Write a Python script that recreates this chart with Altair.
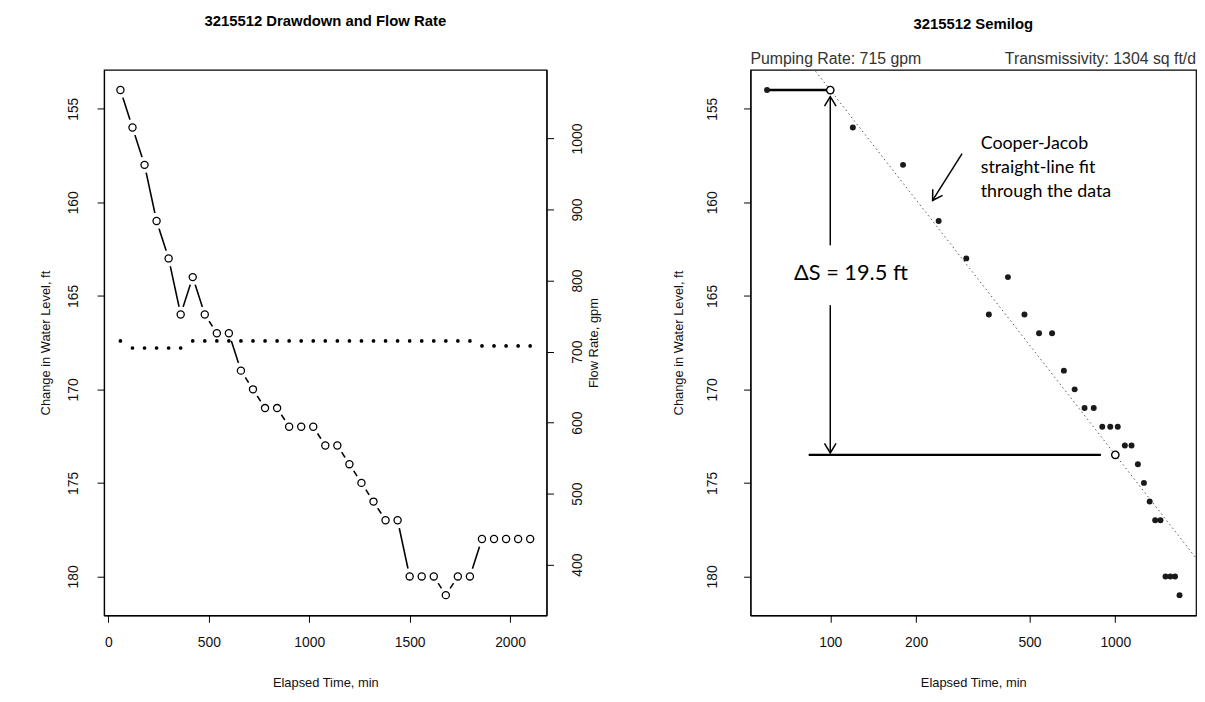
import math
import altair as alt
import pandas as pd

# ---------------- data ----------------
time_min = [60, 120, 180, 240, 300, 360, 420, 480, 540, 600, 660, 720, 780, 840,
            900, 960, 1020, 1080, 1140, 1200, 1260, 1320, 1380, 1440, 1500, 1560,
            1620, 1680, 1740, 1800, 1860, 1920, 1980, 2040, 2100]
drawdown_ft = [154, 156, 158, 161, 163, 166, 164, 166, 167, 167, 169, 170, 171, 171,
               172, 172, 172, 173, 173, 174, 175, 176, 177, 177, 180, 180,
               180, 181, 180, 180, 178, 178, 178, 178, 178]
flow_gpm = [715, 705, 705, 705, 705, 705, 715, 715, 715, 715, 715, 715, 715, 715,
            715, 715, 715, 715, 715, 715, 715, 715, 715, 715, 715, 715,
            715, 715, 715, 715, 708, 708, 708, 708, 708]
semilog_count = 28  # semilog panel uses the pumping period only (to 1680 min)

left_title = "3215512 Drawdown and Flow Rate"
right_title = "3215512 Semilog"
x_title = "Elapsed Time, min"
y_title = "Change in Water Level, ft"
flow_title = "Flow Rate, gpm"

x_ticks_linear = [0, 500, 1000, 1500, 2000]
x_ticks_log = [100, 200, 500, 1000]
y_ticks = [155, 160, 165, 170, 175, 180]
flow_ticks = [400, 500, 600, 700, 800, 900, 1000]

# Cooper-Jacob straight-line fit (two points)
fit_time = [100, 1000]
fit_drawdown = [154.0, 173.5]

# annotation segments (time, drawdown) start / end
seg_t1 = [60, 100, 100, 84, 290]
seg_s1 = [154.0, 154.35, 165.5, 173.5, 157.4]
seg_t2 = [100, 100, 100, 890, 228.5]
seg_s2 = [154.0, 162.3, 173.4, 173.5, 159.9]
seg_w = [2.5, 1.5, 1.5, 2.2, 1.5]

ann_circle_t = [100, 1000]
ann_circle_s = [154.0, 173.5]

arrow_t = [100, 100, 228.5]
arrow_s = [154.35, 173.4, 159.9]
arrow_angle = [180, 0, 32]

note_text = "Cooper-Jacob\nstraight-line fit\nthrough the data"
note_t, note_s = 337, 157.17
delta_text = "\u0394S = 19.5 ft"
delta_t, delta_s = 74.6, 163.8
pump_text = "Pumping Rate: 715 gpm"
trans_text = "Transmissivity: 1304 sq ft/d"

FONT = "Liberation Sans"

# ---------------- scales ----------------
dd_domain = [152.92, 182.08]
lin_domain = [-21.6, 2181.6]
log_domain = [52.5, 1919]
flow_domain = [328.6, 1096.7]

# ---------------- left panel ----------------
df_left = pd.DataFrame({"t": time_min, "s": drawdown_ft, "q": flow_gpm})

x_lin = alt.X("t:Q", scale=alt.Scale(domain=lin_domain, nice=False, zero=False),
              axis=alt.Axis(values=x_ticks_linear, title=x_title, format="d"))
y_left = alt.Y("s:Q", scale=alt.Scale(domain=dd_domain, reverse=True, nice=False, zero=False),
               axis=alt.Axis(values=y_ticks, title=y_title, labelAngle=270,
                             labelAlign="center", labelBaseline="bottom",
                             labelPadding=17, titlePadding=14))
y_flow = alt.Y("q:Q", scale=alt.Scale(domain=flow_domain, nice=False, zero=False),
               axis=alt.Axis(orient="right", values=flow_ticks, title=flow_title, format="d",
                             labelAngle=270, labelAlign="center", labelBaseline="top",
                             labelPadding=17, titleAngle=270, titlePadding=16))

base_left = alt.Chart(df_left)
dd_line = base_left.mark_line(color="black", strokeWidth=1.6).encode(x=x_lin, y=y_left)
dd_halo = base_left.mark_circle(color="white", size=270, opacity=1).encode(x=x_lin, y=y_left)
dd_pts = base_left.mark_point(shape="circle", filled=True, fill="white", stroke="black",
                              strokeWidth=1.3, size=52, opacity=1).encode(x=x_lin, y=y_left)
flow_pts = base_left.mark_circle(color="black", size=14, opacity=1).encode(x=x_lin, y=y_flow)

left = alt.layer(alt.layer(dd_line, dd_halo, dd_pts), flow_pts).resolve_scale(y="independent").properties(
    width=447, height=551,
    title=alt.TitleParams(left_title, fontSize=15, fontWeight="bold", font=FONT,
                          frame="group", anchor="middle", offset=41))

# ---------------- right panel ----------------
df_right = pd.DataFrame({"t": time_min[:semilog_count], "s": drawdown_ft[:semilog_count]})

slope = (fit_drawdown[1] - fit_drawdown[0]) / (math.log10(fit_time[1]) - math.log10(fit_time[0]))
ext_t = [40, 2500]
ext_s = [fit_drawdown[0] + slope * (math.log10(t) - math.log10(fit_time[0])) for t in ext_t]
df_fit = pd.DataFrame({"t": [ext_t[0]], "s": [ext_s[0]], "t2": [ext_t[1]], "s2": [ext_s[1]]})

df_seg = pd.DataFrame({"t": seg_t1, "s": seg_s1, "t2": seg_t2, "s2": seg_s2, "w": seg_w})
df_circ = pd.DataFrame({"t": ann_circle_t, "s": ann_circle_s})
df_arrow = pd.DataFrame({"t": arrow_t, "s": arrow_s, "a": arrow_angle})
df_note = pd.DataFrame({"t": [note_t], "s": [note_s], "label": [note_text]})
df_delta = pd.DataFrame({"t": [delta_t], "s": [delta_s], "label": [delta_text]})
df_top_l = pd.DataFrame({"t": [log_domain[0]], "s": [152.76], "label": [pump_text]})
df_top_r = pd.DataFrame({"t": [log_domain[1]], "s": [152.76], "label": [trans_text]})

x_log = alt.X("t:Q", scale=alt.Scale(type="log", domain=log_domain, nice=False),
              axis=alt.Axis(values=x_ticks_log, title=x_title, format="d"))
y_right = alt.Y("s:Q", scale=alt.Scale(domain=dd_domain, reverse=True, nice=False, zero=False),
                axis=alt.Axis(values=y_ticks, title=y_title, labelAngle=270,
                              labelAlign="center", labelBaseline="bottom",
                              labelPadding=24, titlePadding=21))

fit_rule = alt.Chart(df_fit).mark_rule(color="#555555", strokeWidth=1, strokeDash=[1.5, 3],
                                       clip=True).encode(x=x_log, y=y_right, x2="t2:Q", y2="s2:Q")
seg_rules = alt.Chart(df_seg).mark_rule(color="black").encode(
    x=x_log, y=y_right, x2="t2:Q", y2="s2:Q", strokeWidth=alt.StrokeWidth("w:Q", scale=None))
data_pts = alt.Chart(df_right).mark_circle(color="#1a1a1a", size=36, opacity=1).encode(x=x_log, y=y_right)
circ_pts = alt.Chart(df_circ).mark_point(shape="circle", filled=True, fill="white", stroke="black",
                                         strokeWidth=1.4, size=55, opacity=1).encode(x=x_log, y=y_right)
arrow_pts = alt.Chart(df_arrow).mark_point(shape="M-0.6,-1L0,0L0.6,-1", filled=False, stroke="black",
                                           strokeWidth=1.5, size=380, opacity=1).encode(
    x=x_log, y=y_right, angle=alt.Angle("a:Q", scale=None))
note = alt.Chart(df_note).mark_text(align="left", baseline="alphabetic", lineBreak="\n", lineHeight=24,
                                    font="Lato", fontSize=18, color="black").encode(
    x=x_log, y=y_right, text="label:N")
delta = alt.Chart(df_delta).mark_text(align="left", baseline="middle", font="Lato", fontSize=22,
                                      color="black").encode(x=x_log, y=y_right, text="label:N")
top_left = alt.Chart(df_top_l).mark_text(align="left", baseline="bottom", font=FONT,
                                         fontSize=16, color="#333333").encode(
    x=x_log, y=y_right, text="label:N")
top_right = alt.Chart(df_top_r).mark_text(align="right", baseline="bottom", font=FONT,
                                          fontSize=16, color="#333333").encode(
    x=x_log, y=y_right, text="label:N")

right = alt.layer(fit_rule, seg_rules, data_pts, circ_pts, arrow_pts, note, delta,
                  top_left, top_right).properties(
    width=450, height=551,
    title=alt.TitleParams(right_title, fontSize=15, fontWeight="bold", font=FONT,
                          frame="group", anchor="middle", offset=19))

chart = alt.hconcat(left, right, spacing=71).properties(
    padding={"left": 31, "top": 2, "right": 0, "bottom": 0}, background="white"
).configure_view(stroke="black", strokeWidth=1.2).configure_axis(
    grid=False, domainColor="black", domainWidth=1.2, tickColor="black", tickSize=7,
    labelFont=FONT, labelFontSize=14, labelColor="#111111",
    titleFont=FONT, titleFontSize=13, titleFontWeight="normal", titleColor="#111111"
).configure_axisX(labelPadding=13, titlePadding=28)

chart.save("out.html", embed_options={"renderer": "svg", "actions": False})
